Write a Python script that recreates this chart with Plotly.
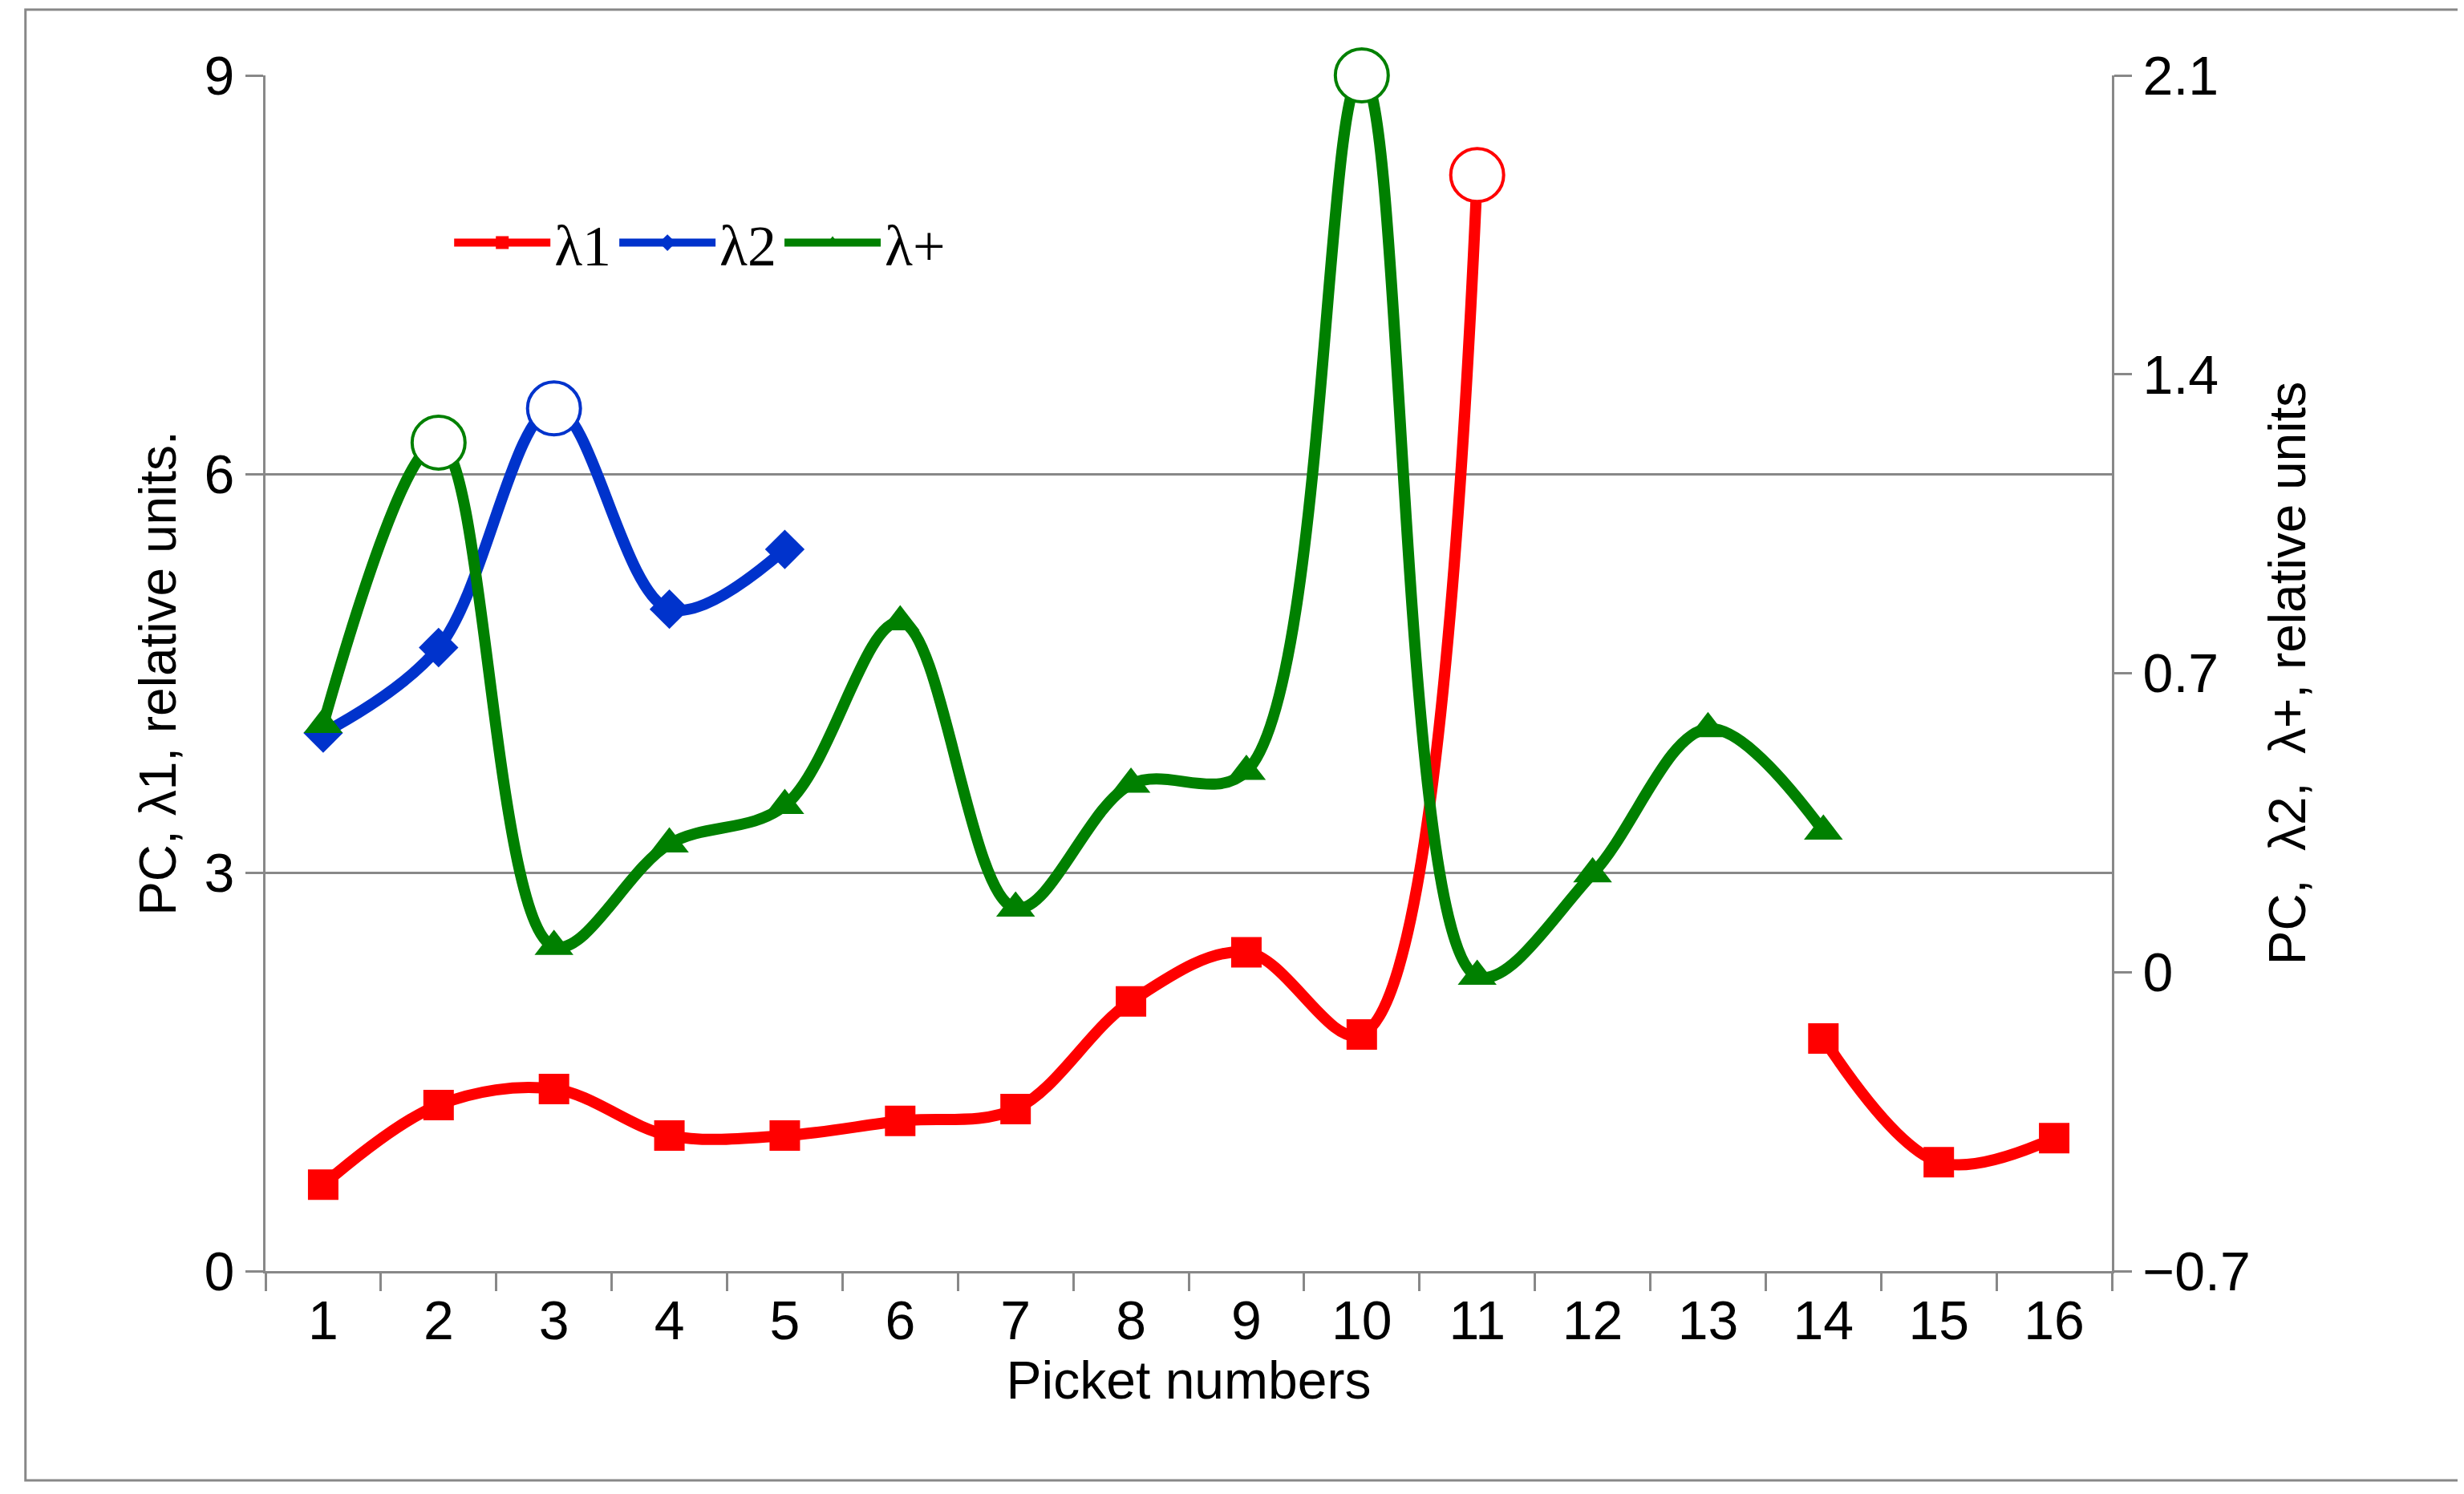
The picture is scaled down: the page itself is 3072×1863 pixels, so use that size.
import plotly.graph_objects as go

pickets = list(range(1, 17))
lam1 = [0.65, 1.25, 1.37, 1.02, 1.02, 1.13, 1.22, 2.03, 2.4, 1.78, 8.25, None, None, 1.75, 0.82, 1.0]
lam2_x = [1, 2, 3, 4, 5]
lam2 = [0.56, 0.76, 1.32, 0.85, 0.99]
lamp_x = list(range(1, 15))
lamp = [0.58, 1.24, 0.06, 0.30, 0.39, 0.82, 0.15, 0.44, 0.47, 2.1, -0.01, 0.23, 0.57, 0.33]
open1 = [11]
open2 = [3]
openp = [2, 10]

red, blue, green = "#ff0000", "#0033cc", "#008000"
LW = 14
fig = go.Figure()
lam1_marked = [v if (p not in open1) else None for p, v in zip(pickets, lam1)]
fig.add_trace(go.Scatter(x=pickets, y=lam1, mode="lines", line=dict(color=red, width=LW, shape="spline"),
                         showlegend=False, connectgaps=False))
fig.add_trace(go.Scatter(x=pickets, y=lam1_marked, mode="markers",
                         marker=dict(symbol="square", size=38, color=red), showlegend=False))
fig.add_trace(go.Scatter(x=[None], y=[None], mode="lines+markers", name="λ1",
                         line=dict(color=red, width=LW), marker=dict(symbol="square", size=38, color=red)))
fig.add_trace(go.Scatter(x=open1, y=[lam1[p - 1] for p in open1], mode="markers", showlegend=False, cliponaxis=False,
                         marker=dict(symbol="circle", size=66, color="white", line=dict(color=red, width=4))))

fig.add_trace(go.Scatter(x=lam2_x, y=lam2, mode="lines", yaxis="y2", line=dict(color=blue, width=LW, shape="spline"), showlegend=False))
fig.add_trace(go.Scatter(x=[x for x in lam2_x if x not in open2], y=[v for x, v in zip(lam2_x, lam2) if x not in open2],
                         mode="markers", yaxis="y2", marker=dict(symbol="diamond", size=38, color=blue), showlegend=False))
fig.add_trace(go.Scatter(x=[None], y=[None], mode="lines+markers", name="λ2",
                         line=dict(color=blue, width=LW), marker=dict(symbol="diamond", size=38, color=blue)))
fig.add_trace(go.Scatter(x=open2, y=[lam2[x - 1] for x in open2], mode="markers", yaxis="y2", showlegend=False, cliponaxis=False,
                         marker=dict(symbol="circle", size=66, color="white", line=dict(color=blue, width=4))))

fig.add_trace(go.Scatter(x=lamp_x, y=lamp, mode="lines", yaxis="y2", line=dict(color=green, width=LW, shape="spline"), showlegend=False))
fig.add_trace(go.Scatter(x=[x for x in lamp_x if x not in openp], y=[v for x, v in zip(lamp_x, lamp) if x not in openp],
                         mode="markers", yaxis="y2", marker=dict(symbol="triangle-up", size=42, color=green), showlegend=False))
fig.add_trace(go.Scatter(x=[None], y=[None], mode="lines+markers", name="λ+",
                         line=dict(color=green, width=LW), marker=dict(symbol="triangle-up", size=42, color=green)))
fig.add_trace(go.Scatter(x=openp, y=[lamp[x - 1] for x in openp], mode="markers", yaxis="y2", showlegend=False, cliponaxis=False,
                         marker=dict(symbol="circle", size=66, color="white", line=dict(color=green, width=4))))

font = dict(family="Liberation Sans, Arial", size=68, color="black")
fig.update_layout(
    width=3072, height=1863, paper_bgcolor="white", plot_bgcolor="white",
    margin=dict(l=323, r=447, t=86, b=286),
    font=font,
    xaxis=dict(range=[0.5, 16.5], tickmode="linear", tick0=1, dtick=1, ticks="", showgrid=False,
               showline=True, linecolor="#888", linewidth=3, zeroline=False,
               minor=dict(tick0=0.5, dtick=1, ticks="outside", ticklen=22, tickcolor="#888", tickwidth=3, showgrid=False),
               title=dict(text="Picket numbers", standoff=5, font=dict(size=66))),
    yaxis=dict(range=[0, 9], tickvals=[0, 3, 6, 9], ticks="outside", ticklen=22, tickcolor="#888", tickwidth=3,
               showgrid=True, gridcolor="#888", gridwidth=3, showline=True, linecolor="#888", linewidth=3,
               zeroline=False, title=dict(text="PC, λ1, relative units.", standoff=15, font=dict(size=64))),
    yaxis2=dict(range=[-0.7, 2.1], tickvals=[-0.7, 0, 0.7, 1.4, 2.1], overlaying="y", side="right",
                ticks="outside", ticklen=22, tickcolor="#888", tickwidth=3, showgrid=False,
                showline=True, linecolor="#888", linewidth=3, zeroline=False,
                title=dict(text="PC,  λ2,  λ+, relative units", standoff=25, font=dict(size=64))),
    legend=dict(orientation="h", x=0.1, y=0.86, xanchor="left", yanchor="middle", bgcolor="rgba(0,0,0,0)",
                font=dict(family="Liberation Serif", size=72), itemwidth=120),
    shapes=[dict(type="rect", xref="paper", yref="paper", x0=-0.13, x1=1.19, y0=-0.175, y1=1.055,
                 line=dict(color="#888", width=3))],
)
fig.write_html("out.html")
